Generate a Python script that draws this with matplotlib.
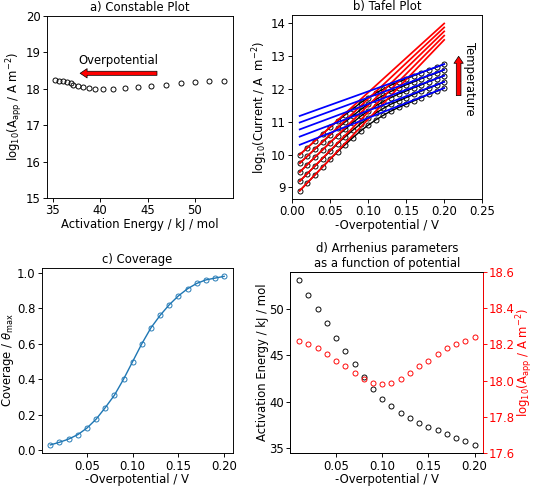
import numpy as np
import matplotlib.pyplot as plt

# overpotential points (V)
eta = [0.01, 0.02, 0.03, 0.04, 0.05, 0.06, 0.07, 0.08, 0.09, 0.10,
       0.11, 0.12, 0.13, 0.14, 0.15, 0.16, 0.17, 0.18, 0.19, 0.20]

# Arrhenius parameters
act_energy = [53.1, 51.5, 50.0, 48.5, 46.9, 45.4, 44.0, 42.6, 41.4, 40.3,
              39.5, 38.8, 38.2, 37.7, 37.2, 36.9, 36.5, 36.1, 35.7, 35.3]
log_A = [18.22, 18.20, 18.18, 18.15, 18.11, 18.08, 18.04, 18.01, 17.99, 17.98,
         17.99, 18.01, 18.04, 18.08, 18.11, 18.15, 18.18, 18.20, 18.22, 18.24]

coverage = [0.03, 0.045, 0.063, 0.088, 0.125, 0.175, 0.24, 0.31, 0.40, 0.50,
            0.60, 0.69, 0.76, 0.82, 0.87, 0.91, 0.94, 0.96, 0.97, 0.98]

# tafel data, one row per temperature (lowest T first)
tafel = [
    [8.90, 9.14, 9.38, 9.62, 9.86, 10.09, 10.31, 10.52, 10.72, 10.90,
     11.06, 11.20, 11.33, 11.44, 11.54, 11.64, 11.74, 11.84, 11.93, 12.03],
    [9.19, 9.42, 9.65, 9.88, 10.11, 10.34, 10.55, 10.75, 10.94, 11.12,
     11.27, 11.41, 11.54, 11.64, 11.74, 11.84, 11.94, 12.03, 12.12, 12.22],
    [9.47, 9.70, 9.92, 10.14, 10.37, 10.58, 10.78, 10.98, 11.17, 11.33,
     11.49, 11.62, 11.74, 11.85, 11.94, 12.04, 12.13, 12.23, 12.32, 12.41],
    [9.74, 9.95, 10.17, 10.38, 10.60, 10.81, 11.00, 11.19, 11.37, 11.54,
     11.68, 11.81, 11.93, 12.03, 12.13, 12.22, 12.32, 12.41, 12.49, 12.59],
    [10.00, 10.21, 10.42, 10.63, 10.83, 11.03, 11.22, 11.40, 11.58, 11.74,
     11.88, 12.00, 12.12, 12.22, 12.31, 12.41, 12.50, 12.59, 12.67, 12.76],
]
# low / high overpotential fit lines, value at first and last eta
red_start = [8.90, 9.19, 9.47, 9.74, 10.00]
red_end = [13.50, 13.63, 13.76, 13.88, 14.00]
blue_start = [10.30, 10.55, 10.77, 10.98, 11.18]
blue_end = [12.03, 12.22, 12.41, 12.59, 12.76]

plt.rcParams['axes.titlesize'] = 10
plt.rcParams['axes.titlepad'] = 4
plt.rcParams['axes.labelpad'] = 0.5
plt.rcParams['xtick.major.pad'] = 1.8
plt.rcParams['ytick.major.pad'] = 1.8

fig = plt.figure(figsize=(534 / 84, 488 / 84), dpi=84)

ax_a = fig.add_axes([0.088, 0.594, 0.348, 0.374])
ax_b = fig.add_axes([0.547, 0.592, 0.356, 0.377])
ax_c = fig.add_axes([0.078, 0.071, 0.358, 0.380])
ax_d = fig.add_axes([0.544, 0.071, 0.361, 0.372])

mk = dict(marker='o', mfc='none', ms=4.3, mew=0.8)

# a) Constable plot
ax_a.plot(act_energy, log_A, ls='none', color='black', **mk)
ax_a.set_ylim(15, 20)
ax_a.set_xticks([35, 40, 45, 50])
ax_a.set_title("a) Constable Plot")
ax_a.set_xlabel("Activation Energy / kJ / mol")
ax_a.set_ylabel(r"log$_{10}$(A$_{\mathrm{app}}$ / A m$^{-2}$)")
ax_a.annotate("", xy=(37.9, 18.42), xytext=(46.0, 18.42),
              arrowprops=dict(facecolor='red', edgecolor='black', lw=0.6,
                              width=3.5, headwidth=8, headlength=6))
ax_a.text(41.95, 18.77, "Overpotential", ha='center', va='center', fontsize=10)

# b) Tafel plot
ends = [eta[0], eta[-1]]
for k in range(len(tafel)):
    ax_b.plot(eta, tafel[k], color='black', lw=1.2, **mk)
for k in range(len(tafel)):
    ax_b.plot(ends, [red_start[k], red_end[k]], color='red', lw=1.5)
for k in range(len(tafel)):
    ax_b.plot(ends, [blue_start[k], blue_end[k]], color='blue', lw=1.5)
ax_b.set_xlim(0, 0.25)
ax_b.set_xticks([0.0, 0.05, 0.10, 0.15, 0.20, 0.25])
ax_b.set_title("b) Tafel Plot")
ax_b.set_xlabel("-Overpotential / V")
ax_b.set_ylabel(r"log$_{10}$(Current / A  m$^{-2}$)")
ax_b.annotate("", xy=(0.219, 13.0), xytext=(0.219, 11.8),
              arrowprops=dict(facecolor='red', edgecolor='black', lw=0.6,
                              width=4, headwidth=8, headlength=6))
ax_b.text(0.2335, 12.3, "Temperature", rotation=270, ha='center', va='center',
          fontsize=10)

# c) coverage
ax_c.plot(eta, coverage, color='C0', lw=1.2, **mk)
ax_c.set_xticks([0.05, 0.10, 0.15, 0.20])
ax_c.set_title("c) Coverage")
ax_c.set_xlabel("-Overpotential / V")
ax_c.set_ylabel(r"Coverage / $\theta_{\mathrm{max}}$")

# d) Arrhenius parameters vs potential
ax_d.plot(eta, act_energy, ls='none', color='black', **mk)
ax_d.set_xticks([0.05, 0.10, 0.15, 0.20])
ax_d.set_yticks([35, 40, 45, 50])
ax_d.set_xlabel("-Overpotential / V")
ax_d.set_ylabel("Activation Energy / kJ / mol")
ax_d.set_title("d) Arrhenius parameters\nas a function of potential")
ax_d2 = ax_d.twinx()
ax_d2.plot(eta, log_A, ls='none', color='red', **mk)
ax_d2.set_ylim(17.6, 18.6)
ax_d2.set_ylabel(r"log$_{10}$(A$_{\mathrm{app}}$ / A m$^{-2}$)", color='red',
                 labelpad=-0.5)
ax_d2.tick_params(axis='y', colors='red', pad=1)
ax_d2.spines['right'].set_color('red')

fig.savefig("out.png", dpi=84)
